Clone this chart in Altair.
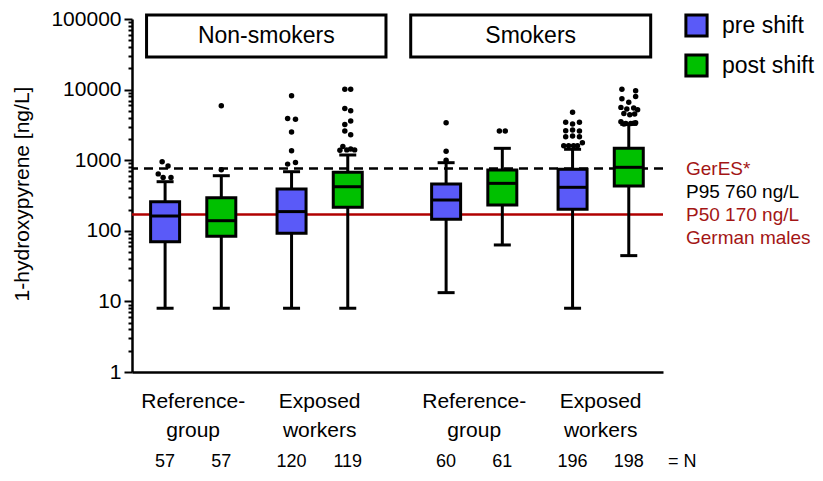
import altair as alt
import pandas as pd

# ---------------- data ----------------
smoking = ["Non-smokers"] * 4 + ["Smokers"] * 4
group = ["Reference-group", "Reference-group", "Exposed workers", "Exposed workers"] * 2
shift = ["pre shift", "post shift"] * 4
n_counts = [57, 57, 120, 119, 60, 61, 196, 198]

whisk_low = [8, 8, 8, 8, 13.3, 63, 8, 44.5]
q1 = [70, 84, 92, 215, 146, 232, 202, 431]
median = [162, 139, 187, 421, 273, 470, 413, 793]
q3 = [258, 294, 391, 673, 460, 726, 743, 1474]
whisk_high = [496, 603, 687, 1185, 922, 1473, 1427, 3222]

outlier_values = [
    [950, 830, 640, 570, 570],
    [5900, 730],
    [8200, 3900, 3800, 2500, 1360, 930, 880],
    [10100, 10100, 5400, 5000, 3600, 3200, 2600, 2300, 1560, 1440, 1400, 1400, 1380],
    [3400, 1340, 1000],
    [2600, 2600],
    [4770, 3450, 3260, 3450, 2620, 2670, 2600, 2150, 2200, 2150, 1600, 1600, 1600, 1600, 1770],
    [10100, 9600, 8000, 7400, 6600, 5600, 5300, 5500, 5200, 4600, 4400, 4500, 3500, 3300, 3300, 3400, 3250, 3350],
]

ref_p95 = 760
ref_p50 = 170

# ---------------- layout constants ----------------
box_pos = [0.5, 1.5, 2.75, 3.75, 5.5, 6.5, 7.75, 8.75]
outlier_jitter_px = [
    [-3, 3, -7, -2, 6],
    [0, 0],
    [0, -4, 4, 0, 0, 4, -4],
    [-3, 3, -3, 3, 3, -3, -3, 3, -5, 3, -1, 7, -8],
    [0, 0, 0],
    [-3, 3],
    [0, -7, 0, 7, -7, 0, 7, -7, 0, 7, -9, -4, 1, 5, 10],
    [-7, 7, 7, -7, 0, -8, -2, 5, 9, -5, 1, 6, -8, -3, 2, 7, -5, 5],
]
X_MAX = 9.27
W, H = 531, 353
PX_PER_UNIT = W / X_MAX
FONT = "Liberation Sans"
BLUE = "#5A5AF8"
GREEN = "#00C000"
RED = "#B00000"
TXT_RED = "#A31515"

boxes = pd.DataFrame({
    "pos": box_pos, "smoking": smoking, "group": group, "shift": shift,
    "low": whisk_low, "q1": q1, "median": median, "q3": q3, "high": whisk_high,
    "n": [str(v) for v in n_counts],
})

orows = []
for i, (vals, jit) in enumerate(zip(outlier_values, outlier_jitter_px)):
    for v, j in zip(vals, jit):
        orows.append({"pos": box_pos[i] + j / PX_PER_UNIT, "value": v})
outliers = pd.DataFrame(orows)

headers = pd.DataFrame({
    "label": ["Non-smokers", "Smokers"],
    "x1": [0.17, 4.87], "x2": [4.43, 9.14],
})
headers["xc"] = (headers["x1"] + headers["x2"]) / 2

cats = pd.DataFrame({
    "label": ["Reference-\ngroup", "Exposed\nworkers", "Reference-\ngroup", "Exposed\nworkers"],
    "xc": [(box_pos[0] + box_pos[1]) / 2, (box_pos[2] + box_pos[3]) / 2,
           (box_pos[4] + box_pos[5]) / 2, (box_pos[6] + box_pos[7]) / 2],
})

majors = [1, 10, 100, 1000, 10000, 100000]
tick_vals = []
for d in majors[:-1]:
    for k in range(1, 10):
        tick_vals.append(d * k)
tick_vals.append(100000)
is_major = "indexof([1,10,100,1000,10000,100000], datum.value) >= 0"

xscale = alt.Scale(domain=[0, X_MAX], nice=False, zero=False)
yscale = alt.Scale(type="log", domain=[1, 100000], nice=False)

xenc = lambda f: alt.X(f, scale=xscale, axis=alt.Axis(
    labels=False, ticks=False, grid=False, title=None,
    domainColor="black", domainWidth=2.5))
yaxis = alt.Axis(
    values=tick_vals, format="d",
    labelExpr=is_major + " ? datum.label : ''",
    labelOverlap=False, labelFontSize=21, labelColor="black", labelPadding=3,
    tickSize={"condition": {"test": is_major, "value": 8}, "value": 4},
    tickWidth=2, tickColor="black", domainColor="black", domainWidth=2.5,
    grid=False, title="1-hydroxypyrene [ng/L]", titleFontSize=21,
    titleFontWeight="normal", titleColor="black",
    titleX=-110, titleY=H / 2 - 2, titleAngle=-90, titleAlign="center",
    titleBaseline="middle",
)

base = alt.Chart(boxes)

p95 = alt.Chart(pd.DataFrame({"y": [ref_p95]})).mark_rule(
    color="black", strokeWidth=2.5, strokeDash=[9, 6]
).encode(y=alt.Y("y:Q", scale=yscale, axis=yaxis))

p50 = alt.Chart(pd.DataFrame({"y": [ref_p50]})).mark_rule(
    color=RED, strokeWidth=2.5
).encode(y=alt.Y("y:Q", scale=yscale))

whisk = base.mark_rule(color="black", strokeWidth=3).encode(
    x=xenc("pos:Q"), y=alt.Y("low:Q", scale=yscale), y2="high:Q")

caps = base.transform_fold(["low", "high"], as_=["k", "v"]).mark_tick(
    orient="horizontal", size=17, thickness=3, color="black", opacity=1
).encode(x=xenc("pos:Q"), y=alt.Y("v:Q", scale=yscale))

box = base.mark_bar(size=29, stroke="black", strokeWidth=3, opacity=1).encode(
    x=xenc("pos:Q"), y=alt.Y("q1:Q", scale=yscale), y2="q3:Q",
    color=alt.Color("shift:N",
                    scale=alt.Scale(domain=["pre shift", "post shift"], range=[BLUE, GREEN]),
                    legend=alt.Legend(
                        title=None, orient="none", legendX=552, legendY=-6,
                        symbolType="square", symbolSize=450, symbolStrokeColor="black",
                        symbolStrokeWidth=3, labelFontSize=23, labelColor="black",
                        labelOffset=13, rowPadding=5, labelFont=FONT)),
)

med = base.mark_tick(orient="horizontal", size=29, thickness=3, color="black", opacity=1).encode(
    x=xenc("pos:Q"), y=alt.Y("median:Q", scale=yscale))

pts = alt.Chart(outliers).mark_circle(size=30, color="black", opacity=1).encode(
    x=xenc("pos:Q"), y=alt.Y("value:Q", scale=yscale))

hdr_box = alt.Chart(headers).mark_rect(fill="white", stroke="black", strokeWidth=3).encode(
    x=xenc("x1:Q"), x2="x2:Q", y=alt.value(-4), y2=alt.value(38))
hdr_txt = alt.Chart(headers).mark_text(fontSize=23, color="black", baseline="middle").encode(
    x=xenc("xc:Q"), y=alt.value(17), text="label:N")

cat_txt = alt.Chart(cats).mark_text(
    fontSize=21, color="black", lineBreak="\n", lineHeight=29, baseline="alphabetic"
).encode(x=xenc("xc:Q"), y=alt.value(389), text="label:N")

n_txt = base.mark_text(fontSize=18, color="black", baseline="alphabetic").encode(
    x=xenc("pos:Q"), y=alt.value(448), text="n:N")

eqn = alt.Chart(pd.DataFrame({"t": ["= N"]})).mark_text(
    fontSize=18, color="black", align="left", baseline="alphabetic"
).encode(x=alt.value(536), y=alt.value(448), text="t:N")

ann = pd.DataFrame({
    "t": ["GerES*", "P95 760 ng/L", "P50 170 ng/L", "German males"],
    "c": [TXT_RED, "black", TXT_RED, TXT_RED],
    "yy": [156, 179, 202, 225],
})
ann_txt = alt.Chart(ann).mark_text(fontSize=19, align="left", baseline="alphabetic").encode(
    x=alt.value(554), y=alt.Y("yy:Q", scale=None), text="t:N",
    color=alt.Color("c:N", scale=None))

chart = alt.layer(
    p50, p95, whisk, caps, box, med, pts, hdr_box, hdr_txt, cat_txt, n_txt, eqn, ann_txt
).properties(
    width=W, height=H,
    autosize=alt.AutoSizeParams(type="none"),
    padding={"left": 124, "top": 11, "right": 152, "bottom": 101},
).configure(font=FONT).configure_view(stroke=None).configure_axis(grid=False)

chart.save("out.html", embed_options={"renderer": "svg", "actions": False})
